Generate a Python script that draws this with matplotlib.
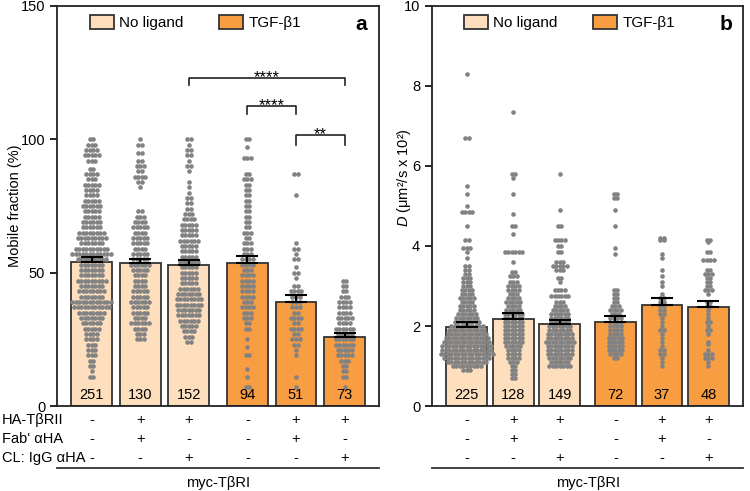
import matplotlib.pyplot as plt
from matplotlib.patches import Patch
from matplotlib.transforms import blended_transform_factory

plt.rcParams['font.family'] = ['Liberation Sans', 'DejaVu Sans']
plt.rcParams['mathtext.fontset'] = 'custom'
plt.rcParams['mathtext.it'] = 'Liberation Sans:italic'
plt.rcParams['mathtext.rm'] = 'Liberation Sans'

# conditions (same six bars in both panels)
ha_tbrii = ['-', '+', '+', '-', '+', '+']
fab_aha = ['-', '+', '-', '-', '+', '-']
cl_igg = ['-', '-', '+', '-', '-', '+']
row_labels = ['HA-TβRII', "Fab' αHA", 'CL: IgG αHA']
ligand = ['No ligand', 'No ligand', 'No ligand', 'TGF-β1', 'TGF-β1', 'TGF-β1']

# panel a: mobile fraction (%)
mobile_mean = [54.1, 53.6, 52.9, 53.6, 38.9, 25.9]
mobile_sem = [1.6, 1.7, 1.9, 2.7, 2.9, 1.6]
mobile_n = [251, 130, 152, 94, 51, 73]

mobile_pts_1 = [(100, 2), (98, 3), (96, 4), (94, 5), (92, 3), (89, 2), (87, 4), (85, 3), (83, 5),
                (81, 4), (79, 4), (77, 5), (75, 6), (73, 5), (71, 5), (69, 6), (67, 6), (65, 8),
                (63, 9), (61, 7), (59, 10), (57, 12), (55, 9), (53, 7), (51, 7), (49, 7), (47, 9),
                (45, 7), (43, 8), (41, 7), (39, 12), (37, 11), (35, 8), (33, 7), (31, 6), (29, 5),
                (27, 4), (25, 4), (23, 3), (21, 3), (19, 3), (17, 2), (15, 2), (13, 1), (11, 2)]
mobile_pts_2 = [(100, 1), (98, 2), (95, 2), (92, 2), (90, 3), (88, 2), (86, 4), (84, 2), (82, 1),
                (73, 2), (71, 3), (69, 4), (67, 5), (65, 4), (63, 5), (61, 5), (59, 4), (57, 5),
                (55, 5), (53, 6), (51, 5), (49, 4), (47, 4), (45, 4), (43, 5), (41, 5), (39, 6),
                (37, 5), (35, 5), (33, 4), (31, 6), (29, 4), (27, 3), (25, 3)]
mobile_pts_3 = [(100, 2), (98, 1), (96, 2), (94, 2), (92, 1), (90, 2), (88, 1), (84, 1), (82, 1),
                (80, 1), (78, 2), (76, 2), (74, 2), (72, 3), (70, 4), (68, 5), (66, 5), (64, 5),
                (62, 6), (60, 5), (58, 5), (56, 5), (54, 6), (52, 5), (50, 5), (48, 5), (46, 5),
                (44, 6), (42, 7), (40, 8), (38, 8), (36, 7), (34, 7), (32, 6), (30, 5), (28, 4),
                (26, 3), (24, 2)]
mobile_pts_4 = [(100, 2), (97, 1), (93, 3), (87, 2), (85, 3), (83, 2), (81, 2), (79, 2), (77, 2),
                (75, 2), (73, 2), (71, 2), (69, 2), (67, 2), (65, 3), (63, 2), (61, 3), (59, 3),
                (57, 3), (55, 4), (53, 4), (51, 3), (49, 4), (47, 4), (45, 4), (43, 4), (41, 4),
                (39, 3), (37, 4), (35, 3), (33, 3), (31, 2), (29, 2), (25, 1), (22, 1), (19, 2),
                (14, 1), (11, 1), (7, 2)]
mobile_pts_5 = [(87, 2), (79, 1), (61, 1), (59, 2), (57, 1), (55, 2), (52, 1), (50, 2), (48, 1),
                (45, 2), (43, 4), (41, 3), (39, 3), (37, 3), (35, 2), (33, 4), (31, 2), (29, 4),
                (27, 2), (25, 3), (23, 2), (21, 1), (19, 1), (11, 1), (7, 1)]
mobile_pts_6 = [(47, 2), (45, 2), (43, 2), (41, 3), (39, 4), (37, 4), (35, 4), (33, 5), (31, 4),
                (29, 6), (27, 5), (25, 6), (23, 6), (21, 5), (19, 5), (17, 3), (15, 2), (13, 2),
                (11, 2), (7, 1)]

# panel b: diffusion coefficient D (um^2/s x 10^2)
diff_mean = [1.98, 2.17, 2.05, 2.11, 2.52, 2.47]
diff_sem = [0.11, 0.15, 0.10, 0.14, 0.19, 0.16]
diff_n = [225, 128, 149, 72, 37, 48]

diff_pts_1 = [(8.3, 1), (6.7, 2), (5.5, 1), (5.3, 1), (5.0, 1), (4.85, 4), (4.5, 1), (4.15, 2),
              (3.95, 3), (3.85, 1), (3.7, 1), (3.5, 2), (3.4, 2), (3.3, 2), (3.2, 3), (3.1, 3),
              (3.0, 3), (2.9, 4), (2.8, 4), (2.7, 5), (2.6, 4), (2.5, 5), (2.4, 5), (2.3, 6),
              (2.2, 7), (2.1, 8), (2.0, 10), (1.9, 11), (1.8, 12), (1.7, 13), (1.6, 14), (1.5, 15),
              (1.4, 15), (1.3, 16), (1.2, 14), (1.1, 12), (1.0, 9), (0.9, 3)]
diff_pts_2 = [(7.35, 1), (5.8, 2), (5.7, 1), (5.3, 1), (4.8, 1), (4.5, 2), (4.3, 1), (3.85, 6),
              (3.6, 1), (3.35, 2), (3.25, 3), (3.1, 3), (3.0, 4), (2.9, 4), (2.8, 3), (2.7, 4),
              (2.6, 5), (2.5, 4), (2.4, 5), (2.3, 6), (2.2, 6), (2.1, 6), (2.0, 6), (1.9, 6),
              (1.8, 6), (1.7, 6), (1.6, 6), (1.5, 5), (1.4, 4), (1.3, 4), (1.2, 4), (1.1, 3),
              (1.0, 2), (0.9, 2), (0.8, 2), (0.7, 2)]
diff_pts_3 = [(5.8, 1), (4.9, 1), (4.5, 2), (4.15, 4), (4.0, 2), (3.85, 2), (3.6, 3), (3.5, 5),
              (3.4, 3), (3.2, 2), (3.1, 1), (2.9, 4), (2.75, 6), (2.6, 3), (2.5, 4), (2.4, 5),
              (2.3, 6), (2.2, 6), (2.1, 6), (2.0, 7), (1.9, 7), (1.8, 8), (1.7, 8), (1.6, 9),
              (1.5, 8), (1.4, 8), (1.3, 8), (1.2, 7), (1.1, 6), (1.0, 7)]
diff_pts_4 = [(5.3, 2), (5.2, 2), (4.9, 1), (4.5, 1), (3.95, 1), (3.8, 1), (2.9, 2), (2.8, 2),
              (2.7, 2), (2.6, 2), (2.5, 3), (2.4, 4), (2.3, 3), (2.2, 4), (2.1, 4), (2.0, 4),
              (1.9, 4), (1.8, 4), (1.7, 5), (1.6, 5), (1.5, 5), (1.4, 5), (1.3, 4), (1.2, 2)]
diff_pts_5 = [(4.2, 2), (4.15, 2), (3.8, 1), (3.7, 1), (3.4, 1), (3.25, 1), (3.1, 1), (3.0, 1),
              (2.8, 1), (2.7, 2), (2.6, 2), (2.5, 2), (2.4, 2), (2.3, 2), (2.2, 1), (2.1, 1),
              (2.0, 1), (1.9, 2), (1.8, 1), (1.7, 1), (1.6, 1), (1.5, 1), (1.4, 2), (1.3, 2),
              (1.2, 1), (1.1, 1), (1.0, 1)]
diff_pts_6 = [(4.15, 2), (4.1, 1), (3.85, 2), (3.65, 4), (3.4, 2), (3.3, 3), (3.2, 2), (3.1, 2),
              (3.0, 2), (2.9, 3), (2.8, 1), (2.6, 2), (2.5, 2), (2.4, 1), (2.3, 1), (2.2, 1),
              (2.1, 2), (2.0, 1), (1.9, 2), (1.8, 1), (1.6, 1), (1.55, 1), (1.4, 1), (1.3, 3),
              (1.2, 3), (1.1, 1), (1.0, 1)]

# significance brackets in panel a: (bar i, bar j, leg bottom, bracket top, label)
sig_brackets = [(2, 5, 120.5, 123.0, '****'),
                (3, 4, 109.3, 112.3, '****'),
                (4, 5, 98.0, 101.5, '**')]

light = '#FDDFBE'
orange = '#F89D42'
edge = '#333333'
dot = '#828282'
bar_colors = [light] * 3 + [orange] * 3
xpos = [0, 1, 2, 3.2, 4.2, 5.2]


def draw_panel(ax, means, sems, ns, pts, width, dx, xlim, ylim, letter):
    ax.bar(xpos, means, width=width, color=bar_colors, edgecolor=edge, linewidth=1.3, zorder=1)
    for x0, rows in zip(xpos, pts):
        xs, ys = [], []
        for v, c in rows:
            for i in range(c):
                xs.append(x0 + (i - (c - 1) / 2) * dx)
                ys.append(v)
        ax.scatter(xs, ys, s=11, color=dot, linewidths=0, zorder=2)
    ax.errorbar(xpos, means, yerr=[[0] * 6, sems], fmt='none', ecolor='black',
                elinewidth=1.5, capsize=8, capthick=1.5, zorder=3)
    tr = blended_transform_factory(ax.transData, ax.transAxes)
    for x0, n in zip(xpos, ns):
        ax.text(x0, 0.027, str(n), transform=tr, ha='center', va='center', fontsize=10.5, zorder=4)
    for y, signs in zip([-0.036, -0.083, -0.13], [ha_tbrii, fab_aha, cl_igg]):
        for x0, s in zip(xpos, signs):
            ax.text(x0, y, s, transform=tr, ha='center', va='center', fontsize=10.5)
    ax.plot([0, 1.0], [-0.155, -0.155], transform=ax.transAxes, color='#333333',
            lw=1.3, clip_on=False)
    ax.text(0.5, -0.192, 'myc-TβRI', transform=ax.transAxes, ha='center', va='center',
            fontsize=10.5)
    ax.set_xlim(*xlim)
    ax.set_ylim(*ylim)
    ax.set_xticks([])
    for sp in ax.spines.values():
        sp.set_linewidth(1.3)
        sp.set_color('#222222')
    ax.tick_params(axis='y', direction='out', length=5, width=1.2, labelsize=10.5)
    handles = [Patch(facecolor=light, edgecolor=edge, lw=1.3, label='No ligand'),
               Patch(facecolor=orange, edgecolor=edge, lw=1.3, label='TGF-β1')]
    ax.legend(handles=handles, ncol=2, loc='upper left', bbox_to_anchor=(0.102, 0.978),
              frameon=False, fontsize=11, handlelength=1.6, handleheight=1.1,
              handletextpad=0.33, columnspacing=2.3, borderpad=0, borderaxespad=0)
    ax.text(0.965, 0.953, letter, transform=ax.transAxes, ha='right', va='center',
            fontsize=15, fontweight='bold')


fig = plt.figure(figsize=(7.5, 4.91), dpi=100)
ax_a = fig.add_axes([0.076, 0.173, 0.429, 0.815])
ax_b = fig.add_axes([0.576, 0.173, 0.415, 0.815])

draw_panel(ax_a, mobile_mean, mobile_sem, mobile_n,
           [mobile_pts_1, mobile_pts_2, mobile_pts_3, mobile_pts_4, mobile_pts_5, mobile_pts_6],
           0.84, 0.072, (-0.71, 5.9), (0, 150), 'a')
ax_a.set_yticks([0, 50, 100, 150])
ax_a.set_ylabel('Mobile fraction (%)', fontsize=10.5)
ax_a.yaxis.set_label_coords(-0.108, 0.5)
tr_a = blended_transform_factory(ax_a.transAxes, ax_a.transAxes)
for y, lab in zip([-0.036, -0.083, -0.13], row_labels):
    ax_a.text(-0.171, y, lab, transform=tr_a, ha='left', va='center', fontsize=10.5)
for i, j, y0, y1, lab in sig_brackets:
    ax_a.plot([xpos[i], xpos[i], xpos[j], xpos[j]], [y0, y1, y1, y0], color='#222222', lw=1.2)
    ax_a.text((xpos[i] + xpos[j]) / 2, y1 - 1.5, lab, ha='center', va='baseline', fontsize=12)

draw_panel(ax_b, diff_mean, diff_sem, diff_n,
           [diff_pts_1, diff_pts_2, diff_pts_3, diff_pts_4, diff_pts_5, diff_pts_6],
           0.88, 0.075, (-0.75, 5.95), (0, 10), 'b')
ax_b.set_yticks([0, 2, 4, 6, 8, 10])
ax_b.set_ylabel('$D$ (μm²/s x 10²)', fontsize=10.5)
ax_b.yaxis.set_label_coords(-0.062, 0.572)

fig.savefig('out.png', dpi=100)
